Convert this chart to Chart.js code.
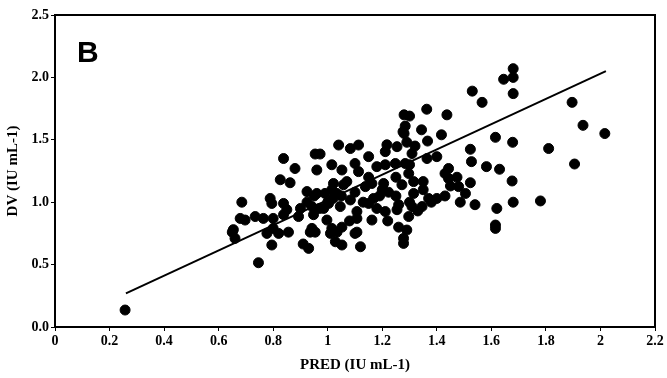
<!DOCTYPE html>
<html>
<head>
<meta charset="utf-8">
<script src="https://cdn.jsdelivr.net/npm/chart.js@4/dist/chart.umd.min.js"></script>
<style>
  html, body { margin: 0; padding: 0; background: #fff; }
  #wrap { width: 667px; height: 378px; }
</style>
</head>
<body>
<div id="wrap"><canvas id="scatter"></canvas></div>
<script>
// observed points: PRED (x) and DV (y)
const predValues = [
  1.68, 1.68, 1.645, 1.68, 1.53, 1.566, 1.363, 1.28, 1.30, 1.437,
  1.284, 1.276, 1.344, 1.417, 1.366, 1.29, 1.217, 1.615, 1.678, 1.896,
  1.936, 2.016, 1.81, 1.905, 1.78, 1.676, 1.68,
  1.523, 1.527, 1.582, 1.63, 1.62, 1.615, 1.615, 1.54, 1.486, 1.505,
  1.523, 1.48, 1.474, 1.443, 1.443, 1.43, 1.309, 1.254, 1.211, 1.40,
  1.364, 1.284, 1.248, 1.211, 1.297, 1.205, 1.223, 1.272, 1.315, 1.35,
  1.315, 1.35, 1.40, 1.37, 1.346, 1.309, 1.26, 1.254, 1.297, 1.211,
  1.26, 1.29, 1.278, 1.278,
  1.04, 1.083, 1.113, 0.954, 0.972, 0.838, 1.15, 0.88, 0.96, 1.015,
  1.052, 1.10, 1.113, 1.18, 0.826, 0.862, 1.021, 1.058, 1.07, 1.138,
  1.162, 0.924, 0.96, 0.99, 1.015, 1.034, 0.685, 0.789, 0.795, 0.838,
  0.924, 0.942, 1.003, 1.02, 1.046, 0.985, 1.083, 1.13, 1.168, 1.107,
  1.15, 1.162, 1.107, 0.948, 0.85, 0.838, 0.893, 0.80, 0.764, 0.734,
  0.697, 0.997, 0.942, 1.015, 1.052, 1.107, 0.80, 0.777, 0.82, 0.856,
  0.936, 0.954, 1.01, 1.034, 0.795, 0.91, 0.93, 1.028, 1.052, 1.10,
  1.12, 0.746, 0.679, 0.654, 0.66, 0.65, 0.257,
  1.0, 1.05, 0.97, 1.1, 1.2, 1.25, 1.3, 1.33, 1.38, 1.43,
  1.45, 0.9, 0.95, 1.08, 1.15, 1.25, 1.3, 1.32, 1.28, 1.19,
  1.18, 1.22
];
const dvValues = [
  2.07, 2.00, 1.985, 1.87, 1.89, 1.80, 1.745, 1.70, 1.69, 1.70,
  1.61, 1.565, 1.58, 1.54, 1.49, 1.48, 1.46, 1.52, 1.48, 1.80,
  1.616, 1.55, 1.43, 1.306, 1.01, 1.17, 1.00,
  1.424, 1.325, 1.285, 1.264, 0.95, 0.817, 0.79, 0.98, 1.00, 1.07,
  1.156, 1.125, 1.20, 1.27, 1.19, 1.23, 1.39, 1.445, 1.405, 1.365,
  1.35, 1.31, 1.31, 1.30, 1.23, 1.15, 1.08, 1.14, 1.165, 1.165,
  1.07, 1.10, 1.03, 1.03, 0.965, 0.965, 0.98, 0.94, 0.885, 0.925,
  0.80, 0.777, 0.71, 0.67,
  1.458, 1.43, 1.458, 1.386, 1.386, 1.35, 1.365, 1.27, 1.258, 1.30,
  1.258, 1.31, 1.245, 1.285, 1.18, 1.156, 1.15, 1.14, 1.165, 1.125,
  1.15, 1.085, 1.07, 1.07, 1.10, 1.07, 1.00, 1.03, 0.99, 0.99,
  1.00, 0.965, 0.99, 1.03, 0.965, 0.95, 1.018, 1.00, 1.03, 0.925,
  0.99, 0.857, 0.87, 0.90, 0.94, 0.90, 0.885, 0.87, 0.87, 0.885,
  0.857, 0.857, 0.79, 0.79, 0.80, 0.76, 0.79, 0.75, 0.75, 0.76,
  0.76, 0.76, 0.75, 0.76, 0.657, 0.665, 0.63, 0.683, 0.657, 0.75,
  0.643, 0.515, 0.87, 0.78, 0.71, 0.76, 0.136,
  1.0, 1.05, 0.95, 1.08, 1.1, 1.05, 1.0, 0.93, 1.0, 1.05,
  1.13, 0.95, 1.05, 0.85, 1.2, 1.2, 1.3, 1.45, 1.55, 1.05,
  0.95, 0.85
];
// fitted regression line, end points
const fitX = [0.26, 2.02];
const fitY = [0.27, 2.05];

const xTicks = [0, 0.2, 0.4, 0.6, 0.8, 1, 1.2, 1.4, 1.6, 1.8, 2, 2.2];
const yTicks = ['0.0', '0.5', '1.0', '1.5', '2.0', '2.5'];

const points = predValues.map((x, i) => ({ x: x, y: dvValues[i] }));
const fitLine = fitX.map((x, i) => ({ x: x, y: fitY[i] }));

// box round the plot plus the panel letter
const framePlugin = {
  id: 'frame',
  afterDraw(chart) {
    const { ctx, chartArea: a } = chart;
    ctx.save();
    ctx.strokeStyle = '#000';
    ctx.lineWidth = 2;
    ctx.strokeRect(a.left, a.top, a.right - a.left, a.bottom - a.top);
    ctx.fillStyle = '#000';
    ctx.font = 'bold 30px "Liberation Sans", Arial, sans-serif';
    ctx.textBaseline = 'alphabetic';
    ctx.fillText('B', a.left + 22, a.top + 47);
    ctx.restore();
  }
};

const tickFont = { family: '"Liberation Serif", "Times New Roman", serif', size: 14, weight: 'bold' };
const titleFont = { family: '"Liberation Serif", "Times New Roman", serif', size: 15, weight: 'bold' };

new Chart(document.getElementById('scatter').getContext('2d'), {
  type: 'scatter',
  data: {
    datasets: [{
      label: 'DV',
      data: points,
      backgroundColor: '#000',
      borderColor: '#000',
      pointRadius: 5,
      borderWidth: 1
    }, {
      label: 'fit',
      type: 'line',
      data: fitLine,
      borderColor: '#000',
      borderWidth: 2,
      pointRadius: 0,
      fill: false
    }]
  },
  options: {
    responsive: true,
    maintainAspectRatio: false,
    animation: false,
    layout: { padding: { top: 15, right: 12, left: 0, bottom: 0 } },
    plugins: {
      legend: { display: false },
      tooltip: { enabled: false }
    },
    scales: {
      x: {
        type: 'linear',
        min: 0,
        max: 2.2,
        afterFit(scale) { scale.height = 51; },
        afterBuildTicks(scale) { scale.ticks = xTicks.map(v => ({ value: v })); },
        ticks: {
          color: '#000',
          font: tickFont,
          padding: 2,
          maxRotation: 0,
          callback: (v) => String(Math.round(v * 10) / 10)
        },
        grid: { drawOnChartArea: false, drawTicks: true, tickLength: 4, color: '#000', lineWidth: 1 },
        border: { display: true, color: '#000', width: 2 },
        title: { display: true, text: 'PRED (IU mL-1)', color: '#000', font: titleFont, padding: { top: 4 } }
      },
      y: {
        type: 'linear',
        min: 0,
        max: 2.5,
        afterFit(scale) { scale.width = 55; },
        afterBuildTicks(scale) { scale.ticks = yTicks.map(v => ({ value: parseFloat(v) })); },
        ticks: {
          color: '#000',
          font: tickFont,
          padding: 2,
          callback: (v) => v.toFixed(1)
        },
        grid: { drawOnChartArea: false, drawTicks: true, tickLength: 4, color: '#000', lineWidth: 1 },
        border: { display: true, color: '#000', width: 2 },
        title: { display: true, text: 'DV (IU mL-1)', color: '#000', font: titleFont, padding: { bottom: 2 } }
      }
    }
  },
  plugins: [framePlugin]
});
</script>
</body>
</html>
